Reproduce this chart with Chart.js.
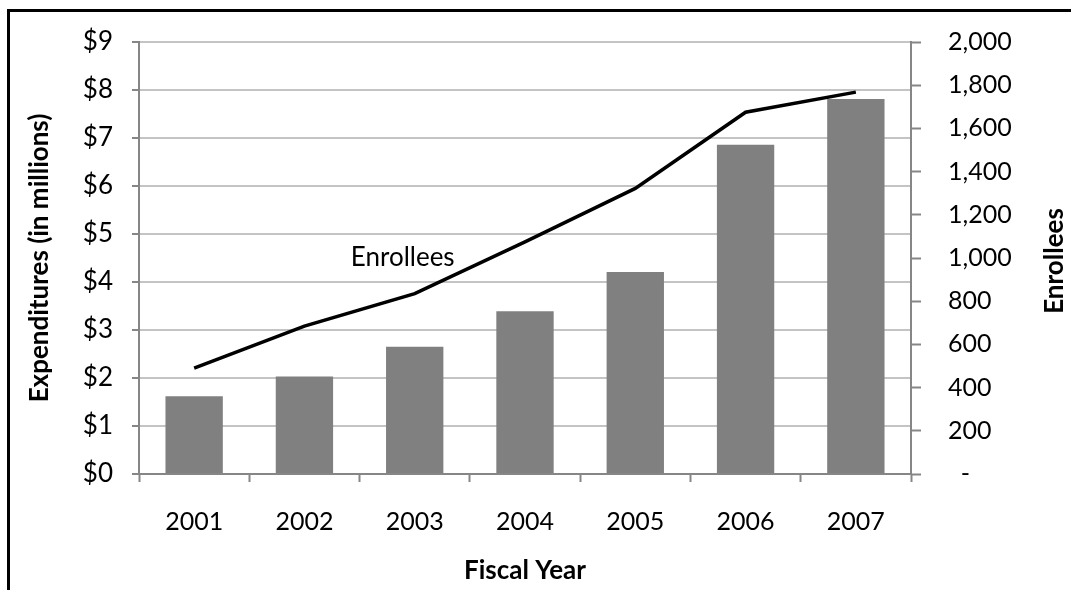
<!DOCTYPE html>
<html>
<head>
<meta charset="utf-8">
<title>Expenditures and Enrollees by Fiscal Year</title>
<script src="https://cdn.jsdelivr.net/npm/chart.js@4.4.1/dist/chart.umd.min.js"></script>
<style>
  body { margin: 0; background: #fff; }
  #wrap { position: relative; width: 1071px; height: 590px; overflow: hidden; }
  #frame {
    position: absolute; left: 7px; top: 9px; width: 1100px; height: 620px;
    border-top: 3px solid #000; border-left: 3px solid #000; pointer-events: none;
  }
</style>
</head>
<body>
<div id="wrap">
  <canvas id="myChart" width="1071" height="590"></canvas>
  <div id="frame"></div>
</div>
<script>
// Fiscal years and the two series
const years = ['2001', '2002', '2003', '2004', '2005', '2006', '2007'];
const expenditures = [1.62, 2.03, 2.65, 3.39, 4.21, 6.86, 7.81]; // $ millions
const enrollees = [490, 685, 835, 1075, 1322, 1675, 1768];

const axisGray = '#868686';
const gridGray = '#c4c4c4';
const fontName = 'Lato, "Noto Sans", sans-serif';

// "Enrollees" beside the line, plus the right axis title read bottom-to-top
const extraText = {
    id: 'extraText',
    afterDraw(chart) {
        const ctx = chart.ctx;
        const x = chart.scales.x.getPixelForValue(2) - 12;
        const y = chart.scales.y1.getPixelForValue(1000);
        ctx.save();
        ctx.fillStyle = '#000';
        ctx.textAlign = 'center';
        ctx.textBaseline = 'middle';
        ctx.font = '26px ' + fontName;
        ctx.fillText('Enrollees', x, y);

        const area = chart.chartArea;
        ctx.translate(1055, (area.top + area.bottom) / 2 + 3);
        ctx.rotate(-Math.PI / 2);
        ctx.font = 'bold 26px ' + fontName;
        ctx.fillText('Enrollees', 0, 0);
        ctx.restore();
    }
};

const ctx = document.getElementById('myChart').getContext('2d');
const chart = new Chart(ctx, {
    type: 'bar',
    data: {
        labels: years,
        datasets: [{
            type: 'line',
            label: 'Enrollees',
            data: enrollees,
            yAxisID: 'y1',
            borderColor: '#000',
            borderWidth: 3.5,
            pointRadius: 0,
            tension: 0,
            order: 0
        }, {
            label: 'Expenditures',
            data: expenditures,
            yAxisID: 'y',
            backgroundColor: '#808080',
            borderWidth: 0,
            categoryPercentage: 1,
            barPercentage: 0.52,
            order: 1
        }]
    },
    options: {
        responsive: false,
        animation: false,
        devicePixelRatio: 1,
        layout: { padding: { top: 39 } },
        plugins: {
            legend: { display: false },
            tooltip: { enabled: false }
        },
        scales: {
            x: {
                afterFit(s) { s.height = 116; },
                grid: {
                    offset: true,
                    drawOnChartArea: false,
                    tickLength: 8,
                    tickColor: axisGray,
                    tickWidth: 2
                },
                border: { color: axisGray, width: 2 },
                ticks: { color: '#000', font: { family: fontName, size: 25 }, padding: 25 },
                title: {
                    display: true,
                    text: 'Fiscal Year',
                    color: '#000',
                    font: { family: fontName, size: 26, weight: 'bold' },
                    padding: { top: 0, bottom: 4 }
                }
            },
            y: {
                position: 'left',
                min: 0,
                max: 9,
                afterFit(s) { s.width = 139; },
                grid: {
                    color: gridGray,
                    lineWidth: 2,
                    tickLength: 7,
                    tickColor: axisGray
                },
                border: { color: axisGray, width: 2 },
                ticks: {
                    stepSize: 1,
                    color: '#000',
                    font: { family: fontName, size: 26 },
                    padding: 19,
                    callback: v => '$' + v
                },
                title: {
                    display: true,
                    text: 'Expenditures (in millions)',
                    color: '#000',
                    font: { family: fontName, size: 26, weight: 'bold' },
                    padding: { top: 24, bottom: 0 }
                }
            },
            y1: {
                position: 'right',
                min: 0,
                max: 2000,
                afterFit(s) { s.width = 160; },
                grid: {
                    drawOnChartArea: false,
                    tickLength: 10,
                    tickColor: axisGray,
                    tickWidth: 2
                },
                border: { color: axisGray, width: 2 },
                ticks: {
                    stepSize: 200,
                    color: '#000',
                    font: { family: fontName, size: 25 },
                    padding: 27,
                    callback: v => v === 0 ? '  -' : v.toLocaleString('en-US')
                },
                title: { display: false }
            }
        }
    },
    plugins: [extraText]
});
</script>
</body>
</html>
